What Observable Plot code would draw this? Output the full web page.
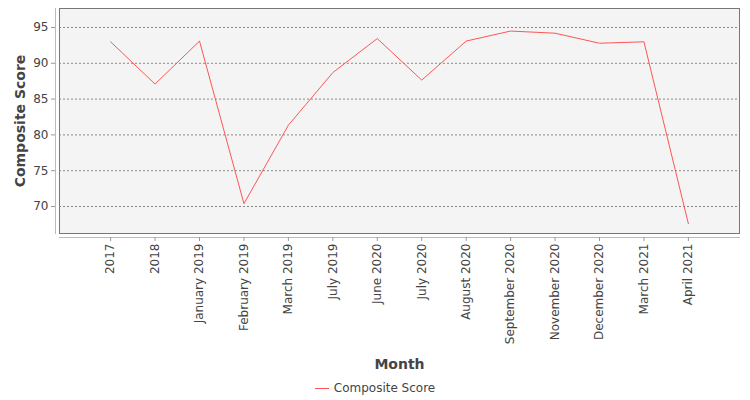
<!DOCTYPE html>
<html>
<head>
<meta charset="utf-8">
<script src="https://cdn.jsdelivr.net/npm/d3@7"></script>
<script src="https://cdn.jsdelivr.net/npm/@observablehq/plot@0.6"></script>
<style>
  html, body { margin: 0; padding: 0; background: #fff; }
  #chart svg { display: block; }
  #legend { width: 750px; height: 24px; display: flex; justify-content: center; align-items: center;
    font-family: "DejaVu Sans", sans-serif; font-size: 12px; color: #444; }
  #legend .sw { display: inline-block; width: 14px; height: 0; border-top: 1px solid #ff5555; margin-right: 5px; }
</style>
</head>
<body>
<div id="chart"></div>
<div id="legend"><span class="sw"></span><span id="legend-label"></span></div>
<script>
const months = ["2017", "2018", "January 2019", "February 2019", "March 2019", "July 2019", "June 2020",
  "July 2020", "August 2020", "September 2020", "November 2020", "December 2020", "March 2021", "April 2021"];
const scores = [93.0, 87.1, 93.1, 70.4, 81.35, 88.7, 93.45, 87.65, 93.1, 94.5, 94.2, 92.8, 93.0, 67.6];
const yTicks = [70, 75, 80, 85, 90, 95];
const seriesName = "Composite Score";
const xTitle = "Month";
const yTitle = "Composite Score";

const data = months.map((m, i) => ({month: m, score: scores[i]}));

const chart = Plot.plot({
  width: 750,
  height: 376,
  marginLeft: 59,
  marginRight: 11,
  marginTop: 8,
  marginBottom: 143,
  x: {type: "point", domain: months, padding: 1.15, round: false},
  y: {domain: [66.23, 97.65]},
  style: {fontFamily: "DejaVu Sans", fontSize: "12px", color: "#444", background: "white"},
  marks: [
    Plot.frame({fill: "#f4f4f4", stroke: "#777"}),
    Plot.ruleY(yTicks, {stroke: "#888", strokeDasharray: "2,2", strokeWidth: 1}),
    Plot.line(data, {x: "month", y: "score", stroke: "#ff5555", strokeWidth: 1}),
    Plot.frame({anchor: "left", dx: -4, stroke: "#bbb"}),
    Plot.frame({anchor: "bottom", dy: 4, stroke: "#bbb"}),
    Plot.axisY({ticks: yTicks, tickSize: 4, dx: -4, tickPadding: 3, label: null, stroke: "#999"}),
    Plot.axisX({tickSize: 4, dy: 4, tickRotate: -90, tickPadding: 2, label: null, stroke: "#999"}),
    Plot.text([xTitle], {frameAnchor: "bottom", dy: 131, lineAnchor: "middle", textAnchor: "middle",
      fontWeight: "bold", fontSize: 14, fill: "#444"}),
    Plot.text([yTitle], {frameAnchor: "left", dx: -39, rotate: -90, textAnchor: "middle", lineAnchor: "middle",
      fontWeight: "bold", fontSize: 14, fill: "#444"})
  ]
});
document.getElementById("chart").appendChild(chart);
document.getElementById("legend-label").textContent = seriesName;
</script>
</body>
</html>
